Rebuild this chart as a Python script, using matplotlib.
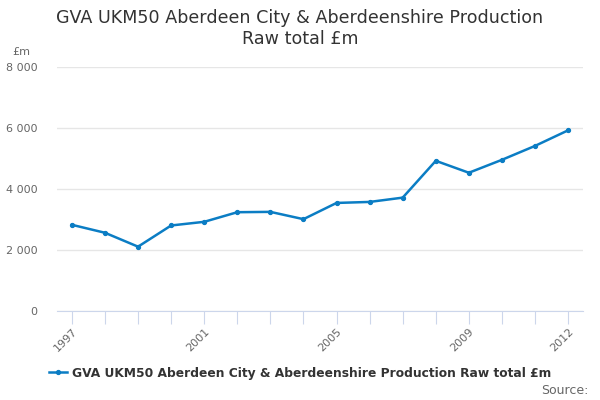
import matplotlib
matplotlib.use("Agg")
import matplotlib.pyplot as plt

years = list(range(1997, 2013))
values = [2826, 2565, 2109, 2804, 2924, 3239, 3250, 3011,
          3543, 3576, 3717, 4924, 4533, 4957, 5413, 5924]
label_years = [1997, 2001, 2005, 2009, 2012]
y_ticks = [0, 2000, 4000, 6000, 8000]
y_labels = ["0", "2 000", "4 000", "6 000", "8 000"]
series_name = "GVA UKM50 Aberdeen City & Aberdeenshire Production Raw total £m"

line_color = "#0b7dc4"
axis_color = "#ccd6eb"
grid_color = "#e6e6e6"
text_color = "#666666"

fig = plt.figure(figsize=(6, 4), dpi=100)
ax = fig.add_axes([57 / 600, 1 - 311 / 400, (583 - 57) / 600, (311 - 67) / 400])

ax.plot(years, values, color=line_color, linewidth=1.8, marker="o", markersize=2.8,
        label=series_name)

ax.set_ylim(0, 8000)
ax.set_xlim(1996.55, 2012.45)
ax.set_yticks(y_ticks)
ax.set_yticklabels(y_labels)
ax.set_xticks(years)
ax.set_xticklabels([str(y) if y in label_years else "" for y in years],
                   rotation=45, ha="right", rotation_mode="anchor")
ax.grid(axis="y", color=grid_color, linewidth=1)
ax.set_axisbelow(True)

for side in ["top", "right", "left"]:
    ax.spines[side].set_visible(False)
ax.spines["bottom"].set_color(axis_color)
ax.tick_params(axis="y", length=0, labelsize=8, colors=text_color, pad=14)
ax.tick_params(axis="x", length=9, color=axis_color, labelsize=8,
               labelcolor=text_color, pad=2)

fig.text(0.5, 1 - 18 / 400, "GVA UKM50 Aberdeen City & Aberdeenshire Production",
         ha="center", va="center", fontsize=12.6, color="#333333")
fig.text(0.5, 1 - 39 / 400, "Raw total £m", ha="center", va="center",
         fontsize=12.6, color="#333333")
fig.text(12 / 600, 1 - 52 / 400, "£m", ha="left", va="center", fontsize=8,
         color=text_color)

leg = fig.legend(loc="center", bbox_to_anchor=(0.5, 1 - 373 / 400), frameon=False,
                 fontsize=8.8, handlelength=1.5, handletextpad=0.4)
for t in leg.get_texts():
    t.set_fontweight("bold")
    t.set_color("#333333")

fig.text(588 / 600, 1 - 390 / 400, "Source:", ha="right", va="center", fontsize=9,
         color=text_color)

fig.savefig("out.png", dpi=100)
